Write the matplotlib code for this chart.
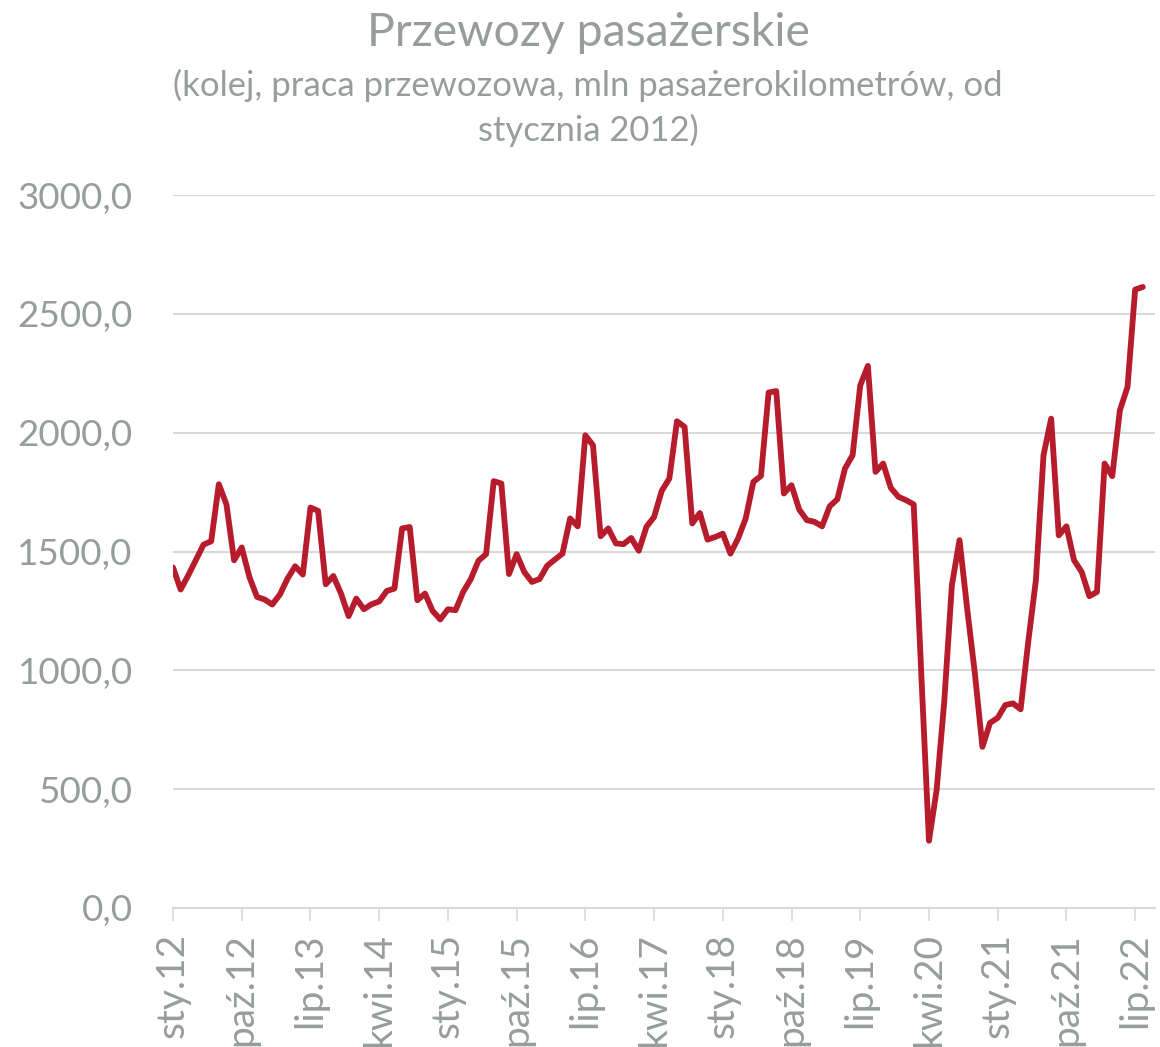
import matplotlib
matplotlib.use("Agg")
import matplotlib.pyplot as plt
from matplotlib.ticker import FuncFormatter, FixedLocator

plt.rcParams['font.family'] = ['Lato', 'DejaVu Sans']

# --- data -------------------------------------------------------------
month_abbr = ['sty', 'lut', 'mar', 'kwi', 'maj', 'cze',
              'lip', 'sie', 'wrz', 'paź', 'lis', 'gru']
start_year = 2012

v2012 = [1433, 1340, 1400, 1465, 1529, 1543, 1783, 1698, 1463, 1517, 1393, 1309]
v2013 = [1298, 1277, 1319, 1386, 1438, 1403, 1685, 1671, 1362, 1397, 1323, 1228]
v2014 = [1302, 1257, 1278, 1290, 1334, 1344, 1597, 1603, 1295, 1323, 1250, 1214]
v2015 = [1257, 1253, 1330, 1384, 1461, 1489, 1796, 1786, 1405, 1489, 1414, 1372]
v2016 = [1384, 1440, 1466, 1491, 1639, 1606, 1989, 1947, 1564, 1597, 1534, 1531]
v2017 = [1557, 1503, 1604, 1645, 1755, 1807, 2048, 2024, 1618, 1662, 1550, 1561]
v2018 = [1575, 1491, 1555, 1639, 1793, 1818, 2169, 2175, 1744, 1779, 1677, 1632]
v2019 = [1625, 1606, 1690, 1720, 1849, 1905, 2199, 2281, 1835, 1870, 1768, 1730]
v2020 = [1716, 1698, 980, 283, 496, 868, 1358, 1548, 1260, 990, 678, 779]
v2021 = [800, 854, 861, 836, 1120, 1379, 1905, 2059, 1568, 1606, 1463, 1414]
v2022 = [1312, 1330, 1870, 1817, 2094, 2192, 2602, 2613]

values = (v2012 + v2013 + v2014 + v2015 + v2016 + v2017 + v2018 +
          v2019 + v2020 + v2021 + v2022)
categories = [f"{month_abbr[i % 12]}.{(start_year + i // 12) % 100:02d}"
              for i in range(len(values))]
label_step = 9

title = "Przewozy pasażerskie"
subtitle = "(kolej, praca przewozowa, mln pasażerokilometrów, od\nstycznia 2012)"

# --- style ------------------------------------------------------------
W, H = 1160, 1047
line_color = '#B71C2C'
text_color = '#979C9C'
grid_color = '#D9D9D9'

fig = plt.figure(figsize=(W / 100, H / 100), dpi=100)
ax = fig.add_axes([173 / W, 1 - 908 / H, (1155 - 173) / W, (908 - 195) / H])

x = list(range(len(values)))
ax.plot(x, values, color=line_color, linewidth=4.2,
        solid_joinstyle='round', solid_capstyle='round', zorder=3)

ax.set_ylim(0, 3000)
ax.set_xlim(0, 128.6)
ax.set_yticks([0, 500, 1000, 1500, 2000, 2500, 3000])
ax.yaxis.set_major_formatter(FuncFormatter(lambda v, p: f"{v:.1f}".replace('.', ',')))
ax.grid(axis='y', color=grid_color, linewidth=1.5, zorder=0)
ax.set_axisbelow(True)

tick_pos = x[::label_step]
ax.xaxis.set_major_locator(FixedLocator(tick_pos))
ax.set_xticklabels([categories[i] for i in tick_pos], rotation=90)

for s in ['left', 'right', 'top']:
    ax.spines[s].set_visible(False)
ax.spines['bottom'].set_color(grid_color)
ax.spines['bottom'].set_linewidth(1.5)

ax.tick_params(axis='y', length=0, pad=29, labelsize=26.5, labelcolor=text_color)
ax.tick_params(axis='x', length=9, width=1.2, color=grid_color, pad=9,
               labelsize=28, labelcolor=text_color)

fig.text(588 / W, 1 - 33 / H, title, ha='center', va='center',
         fontsize=33.4, color=text_color)
fig.text(588 / W, 1 - 108 / H, subtitle, ha='center', va='center',
         fontsize=24.9, color=text_color, linespacing=1.42)

fig.savefig('out.png', dpi=100)
